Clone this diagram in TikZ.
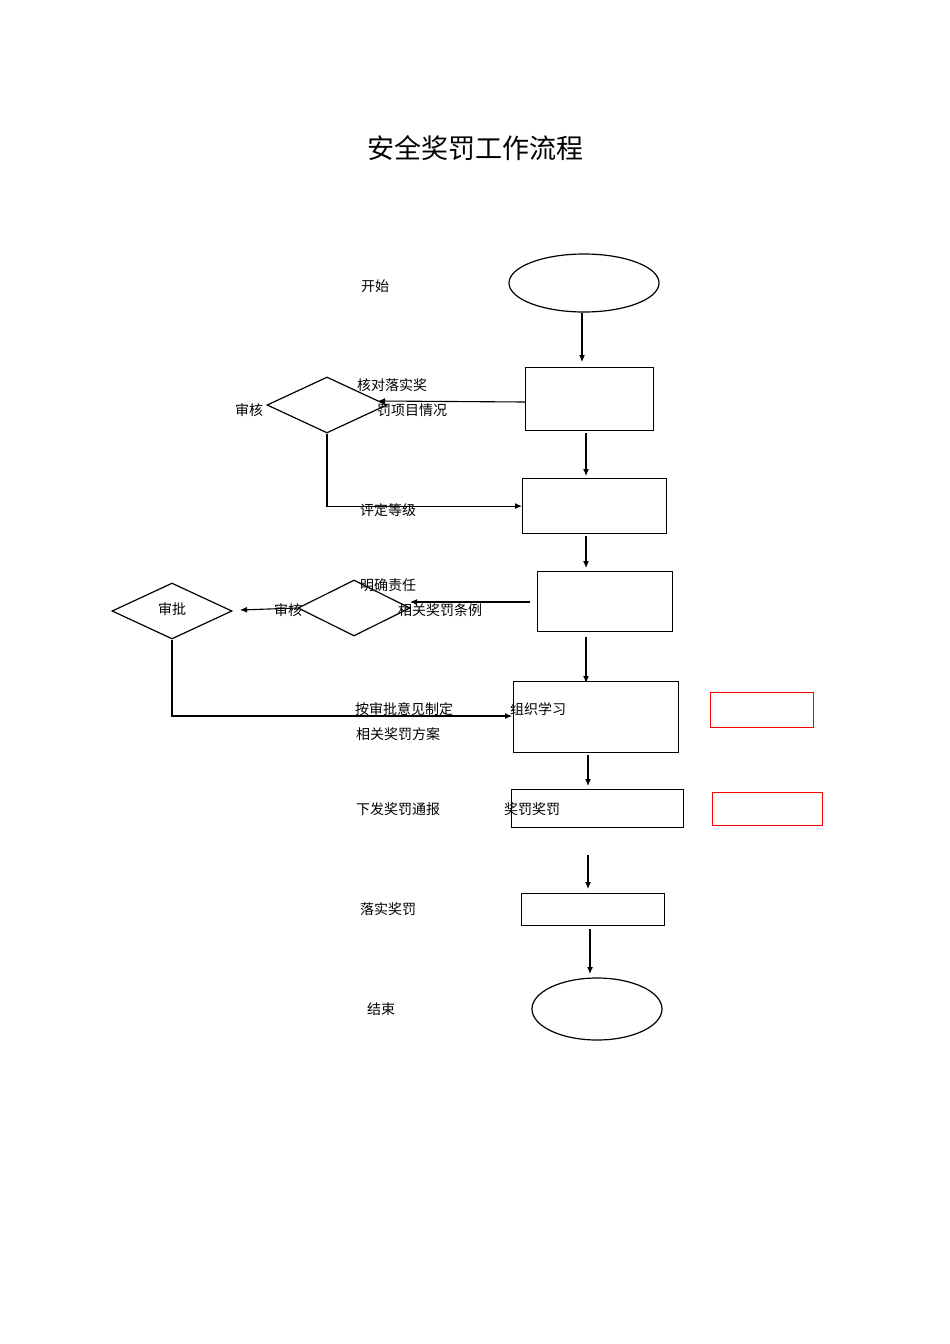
\documentclass[tikz,border=0pt]{standalone}
\usepackage{fontspec}
\newfontfamily\cjk{Noto Sans CJK SC}
\usetikzlibrary{shapes.geometric,arrows.meta}
\begin{document}
\begin{tikzpicture}[x=1pt,y=-1pt,
  lbl/.style={font=\cjk\fontsize{14}{16}\selectfont,inner sep=0},
  box/.style={draw,line width=1.2pt,inner sep=0,anchor=north west},
  rbox/.style={draw=red,line width=1.2pt,inner sep=0,anchor=north west},
  dia/.style={draw,line width=1.2pt,diamond,inner sep=0,aspect=2.1},
  ell/.style={draw,line width=1.2pt,ellipse,inner sep=0},
  arr/.style={line width=1.1pt,-{Latex[length=7pt,width=6pt]}},
  ln/.style={line width=1.1pt}]
\useasboundingbox (0,0) rectangle (950,1344);
\node[font=\cjk\fontsize{27}{30}\selectfont] (title) at (475,148) {安全奖罚工作流程};
% shapes
\node[ell,minimum width=150,minimum height=58] (start) at (584,283) {};
\node[box,minimum width=128,minimum height=63] (b1) at (525,367) {};
\node[box,minimum width=144,minimum height=55] (b2) at (522,478) {};
\node[box,minimum width=135,minimum height=60] (b3) at (537,571) {};
\node[box,minimum width=165,minimum height=71] (b4) at (513,681) {};
\node[box,minimum width=172,minimum height=38] (b5) at (511,789) {};
\node[box,minimum width=143,minimum height=32] (b6) at (521,893) {};
\node[rbox,minimum width=103,minimum height=35] (r1) at (710,692) {};
\node[rbox,minimum width=110,minimum height=33] (r2) at (712,792) {};
\node[ell,minimum width=130,minimum height=62] (end) at (597,1009) {};
\node[dia,minimum width=120,minimum height=56] (d1) at (327,405) {};
\node[dia,minimum width=112,minimum height=56] (d2) at (354,608) {};
\node[dia,minimum width=120,minimum height=56] (d3) at (172,611) {};
% labels
\node[lbl] (t1) at (375,286) {开始};
\node[lbl] (t2) at (249,410) {审核};
\node[lbl] (t3) at (392,385) {核对落实奖};
\node[lbl] (t4) at (412,410) {罚项目情况};
\node[lbl] (t5) at (388,510) {评定等级};
\node[lbl] (t6) at (388,585) {明确责任};
\node[lbl] (t7) at (440,610) {相关奖罚条例};
\node[lbl] (t8) at (288,610) {审核};
\node[lbl] (t9) at (172,609) {审批};
\node[lbl] (t10) at (404,709) {按审批意见制定};
\node[lbl] (t11) at (398,734) {相关奖罚方案};
\node[lbl] (t12) at (538,709) {组织学习};
\node[lbl] (t13) at (398,809) {下发奖罚通报};
\node[lbl] (t14) at (532,809) {奖罚奖罚};
\node[lbl] (t15) at (388,909) {落实奖罚};
\node[lbl] (t16) at (381,1009) {结束};
% connectors
\coordinate (a1) at (582,362);
\draw[arr] (start.south -| a1) -- (a1);
\coordinate (a2) at (586,476);
\draw[arr] (b1.south -| a2) ++(0,2) -- (a2);
\coordinate (a3) at (378,401);
\draw[arr] (b1.west |- 0,402) -- (a3);
\draw[arr] (d1.south) |- (b2.west);
\coordinate (a4) at (586,568);
\draw[arr] (b2.south -| a4) ++(0,2) -- (a4);
\coordinate (a5) at (410,602);
\coordinate (a5s) at (530,602);
\draw[arr] (a5s) -- (a5);
\coordinate (a6) at (240,610);
\draw[arr] (d2.west) -- (a6);
\coordinate (a7) at (512,716);
\draw[arr] (d3.south) |- (a7);
\coordinate (a8s) at (586,637);
\coordinate (a8) at (586,683);
\draw[arr] (a8s) -- (a8);
\coordinate (a9s) at (588,755);
\coordinate (a9) at (588,786);
\draw[arr] (a9s) -- (a9);
\coordinate (a10s) at (588,855);
\coordinate (a10) at (588,889);
\draw[arr] (a10s) -- (a10);
\coordinate (a11s) at (590,929);
\coordinate (a11) at (590,974);
\draw[arr] (a11s) -- (a11);
\end{tikzpicture}
\end{document}
